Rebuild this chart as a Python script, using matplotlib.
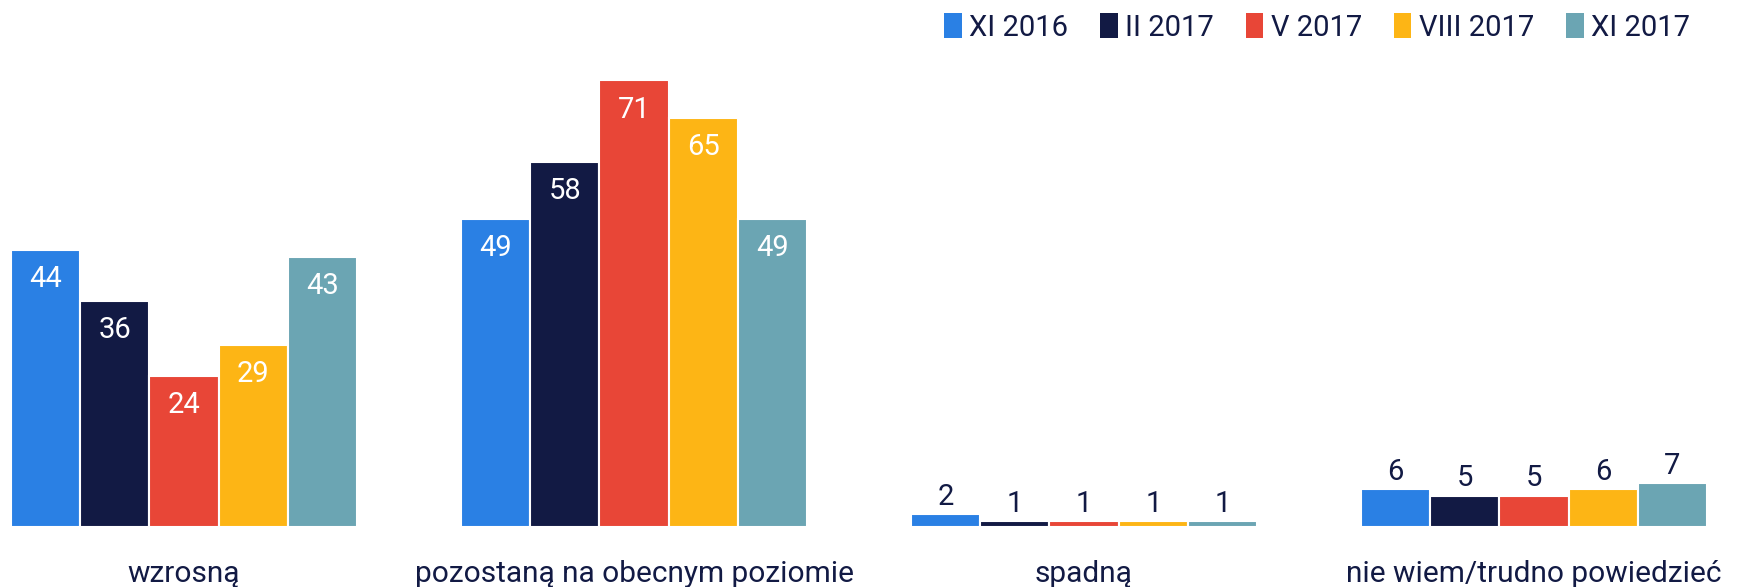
import matplotlib
import matplotlib.pyplot as plt
import numpy as np
from matplotlib.patches import Patch

matplotlib.use("Agg")

categories = ["wzrosną", "pozostaną na obecnym poziomie", "spadną", "nie wiem/trudno powiedzieć"]
series_names = ["XI 2016", "II 2017", "V 2017", "VIII 2017", "XI 2017"]
values = {
    "XI 2016": [44, 49, 2, 6],
    "II 2017": [36, 58, 1, 5],
    "V 2017": [24, 71, 1, 5],
    "VIII 2017": [29, 65, 1, 6],
    "XI 2017": [43, 49, 1, 7],
}
colors = ["#2A80E4", "#121A44", "#E84637", "#FDB515", "#6BA5B3"]
text_dark = "#121A44"

plt.rcParams["font.family"] = ["Roboto", "DejaVu Sans"]

fig = plt.figure(figsize=(17.37, 5.87), dpi=100)
ax = fig.add_axes([0, 60 / 587, 1, 500 / 587])

x = np.arange(len(categories))
width = 0.1538
for j, name in enumerate(series_names):
    offs = (j - 2) * width
    vals = values[name]
    ax.bar(x + offs, vals, width, color=colors[j], edgecolor="white", linewidth=1.5)
    for xi, v in zip(x, vals):
        if v >= 20:
            ax.text(xi + offs, v - 2.4, str(v), ha="center", va="top",
                    color="white", fontsize=21)
        else:
            ax.text(xi + offs, v + 0.5, str(v), ha="center", va="bottom",
                    color=text_dark, fontsize=21)

for xi, cat in zip(x, categories):
    ax.text(xi, -7.5, cat, ha="center", va="center", color=text_dark,
            fontsize=21.5, clip_on=False)

ax.set_xlim(-0.409, 3.451)
ax.set_ylim(0, 79.5)
ax.axis("off")

handles = [Patch(facecolor=c, edgecolor="none") for c in colors]
fig.legend(handles, series_names, loc="upper right", bbox_to_anchor=(0.988, 1.022),
           ncol=5, frameon=False, fontsize=21, handlelength=0.6, handleheight=0.9,
           handletextpad=0.25, columnspacing=1.1, labelcolor=text_dark)

fig.savefig("out.png", dpi=100)
